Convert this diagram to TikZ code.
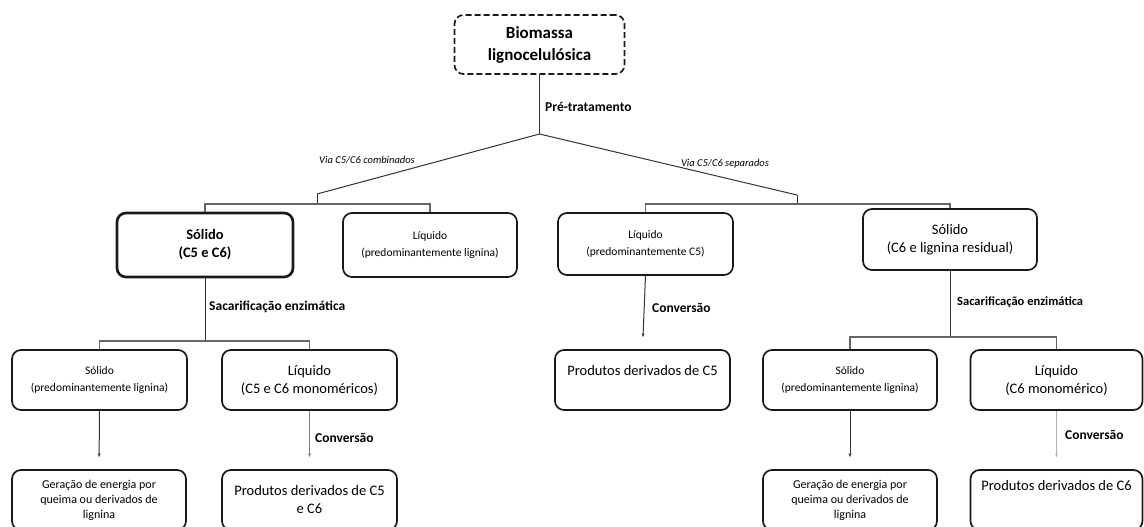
\documentclass[tikz,border=0pt]{standalone}
\usepackage{fontspec}
\setmainfont{Carlito}
\usetikzlibrary{arrows.meta,calc}
\begin{document}
\begin{tikzpicture}[x=1pt,y=-1pt,
  box/.style={draw=black!90, line width=1.7pt, rounded corners=9pt, align=center, inner sep=0pt},
  sm/.style={font=\fontsize{11.5}{17}\selectfont},
  md/.style={font=\fontsize{14.5}{18}\selectfont},
  conn/.style={draw=black!80, line width=1pt},
  barl/.style={draw=black!60, line width=1.1pt},
  arr/.style={conn, -{Stealth[length=4pt,width=3pt]}, shorten >=12pt},
  lab/.style={font=\bfseries\fontsize{13.5}{16}\selectfont, anchor=west, inner sep=0pt},
  via/.style={font=\itshape\fontsize{10.5}{12}\selectfont, inner sep=0pt}
]
\clip (0,0) rectangle (1144,527);
\fill[white] (0,0) rectangle (1144,527);

% nodes
\node[box, dash pattern=on 6pt off 3pt, minimum width=170pt, minimum height=59pt,
      font=\bfseries\fontsize{17}{22}\selectfont] (bio) at (539.5,44.5) {Biomassa\\lignocelulósica};

\node[box, line width=2.6pt, minimum width=176pt, minimum height=64pt,
      font=\bfseries\fontsize{14.5}{18}\selectfont] (s1) at (205,245) {Sólido\\(C5 e C6)};
\node[box, sm, minimum width=174pt, minimum height=64pt] (l1) at (430,245) {Líquido\\(predominantemente lignina)};
\node[box, sm, minimum width=175pt, minimum height=62pt] (l2) at (645.5,244) {Líquido\\(predominantemente C5)};
\node[box, md, minimum width=174pt, minimum height=61pt] (s2) at (950,239.5) {Sólido\\(C6 e lignina residual)};

\node[box, sm, minimum width=175pt, minimum height=60pt] (s3) at (99.5,380) {Sólido\\(predominantemente lignina)};
\node[box, md, minimum width=175pt, minimum height=60pt] (l3) at (309.5,380) {Líquido\\(C5 e C6 monoméricos)};
\node[box, md, minimum width=175pt, minimum height=60pt, text depth=19pt] (p1) at (642.5,380) {Produtos derivados de C5};
\node[box, sm, minimum width=174pt, minimum height=60pt] (s4) at (850,380) {Sólido\\(predominantemente lignina)};
\node[box, md, minimum width=172pt, minimum height=60pt] (l4) at (1056.5,380) {Líquido\\(C6 monomérico)};

\node[box, font=\fontsize{12}{15}\selectfont, minimum width=174pt, minimum height=60pt] (g1) at (99,500) {Geração de energia por\\queima ou derivados de\\lignina};
\node[box, md, minimum width=175pt, minimum height=60pt] (p2) at (309.5,500) {Produtos derivados de C5\\e C6};
\node[box, font=\fontsize{12}{15}\selectfont, minimum width=174pt, minimum height=60pt] (g2) at (850,500) {Geração de energia por\\queima ou derivados de\\lignina};
\node[box, md, minimum width=172pt, minimum height=60pt, text depth=29pt] (p3) at (1056.5,500) {Produtos derivados de C6};

% labels
\node[lab] (pre) at (545,107) {Pré-tratamento};
\node[via] (vc) at (367,160) {Via C5/C6 combinados};
\node[via] (vs) at (725,164) {Via C5/C6 separados};
\node[lab] (sac1) at (209,307) {Sacarificação enzimática};
\node[lab, font=\bfseries\fontsize{12.5}{15}\selectfont] (sac2) at (957,302) {Sacarificação enzimática};
\node[lab] (cv1) at (315,438) {Conversão};
\node[lab] (cv2) at (652,308) {Conversão};
\node[lab] (cv3) at (1065,435) {Conversão};

% coordinates
\coordinate (apex) at (539.5,134);
\coordinate (bL) at (317,194);
\coordinate (bR) at (797,195);
\coordinate (yT) at (0,204);
\coordinate (yL2) at (0,341);
\coordinate (yR2) at (0,337);

% connectors
\draw[conn] (bio.south) -- (apex);
\draw[conn] (bL) -- (apex) -- (bR);
\draw[conn] (bL) -- (bL |- yT);
\draw[conn] (bR) -- (bR |- yT);
\draw[barl] (s1.north) -- (s1.north |- yT) -- (l1.north |- yT) -- (l1.north);
\draw[barl] (l2.north) -- (l2.north |- yT) -- (s2.north |- yT) -- (s2.north);

\draw[conn] (s1.south) -- (s1.south |- yL2);
\draw[barl] (s3.north) -- (s3.north |- yL2) -- (l3.north |- yL2) -- (l3.north);
\draw[conn] (s2.south) -- (s2.south |- yR2);
\draw[barl] (s4.north) -- (s4.north |- yR2) -- (l4.north |- yR2) -- (l4.north);

\draw[arr] (s3.south) -- (g1.north);
\draw[arr, draw=black!50] (l3.south) -- (p2.north);
\draw[arr] (l2.south) -- (p1.north);
\draw[arr] (s4.south) -- (g2.north);
\draw[arr, draw=black!30] (l4.south) -- (p3.north);
\end{tikzpicture}
\end{document}
